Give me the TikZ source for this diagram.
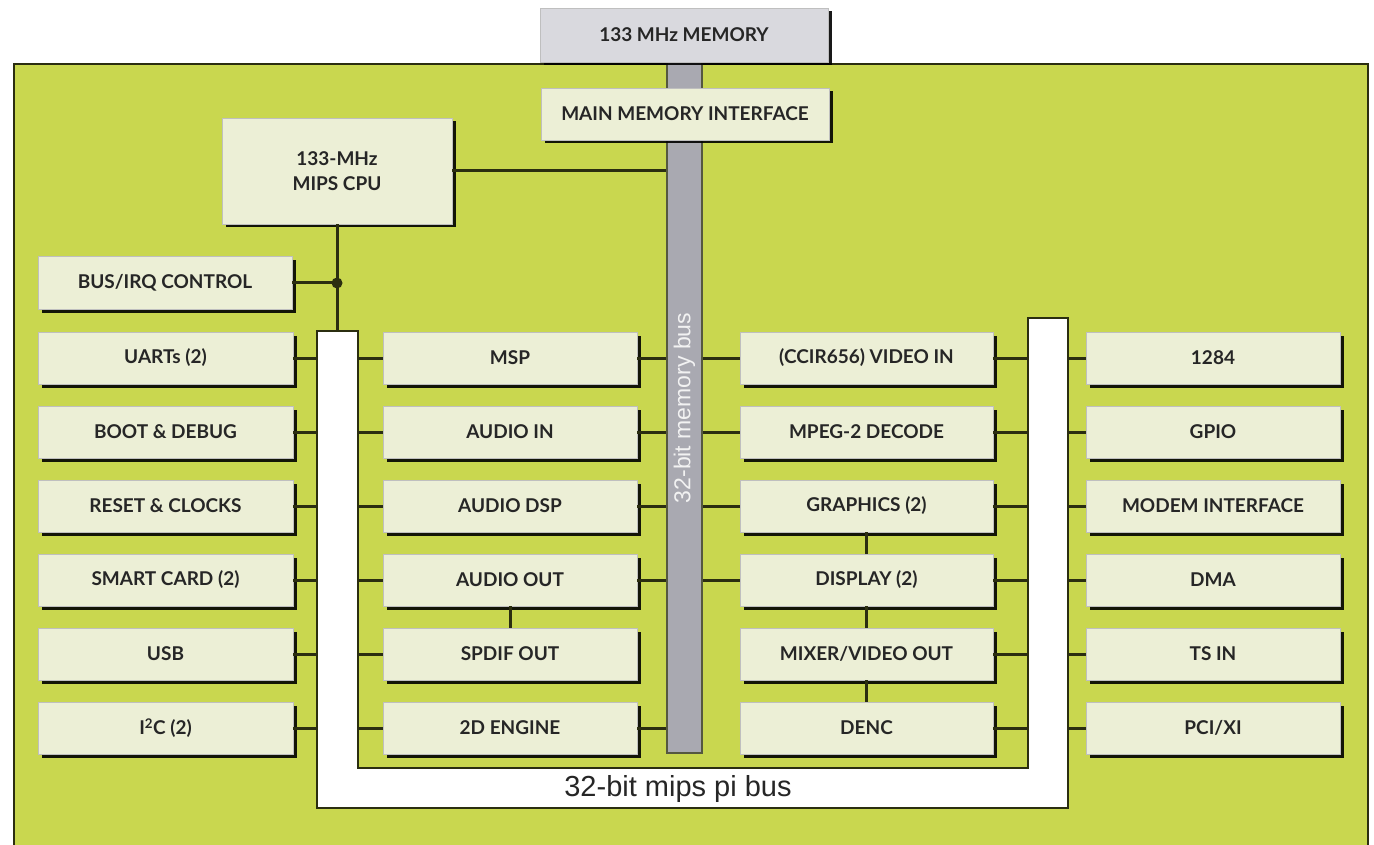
\documentclass[tikz,border=0pt]{standalone}
\usepackage{fontspec}
\newfontfamily\boxfont{Lato}
\newfontfamily\helv{Liberation Sans}
\usetikzlibrary{shadows}
\definecolor{bg}{HTML}{C9D74F}
\definecolor{boxfill}{HTML}{ECEFD6}
\definecolor{memfill}{HTML}{D9D9DE}
\definecolor{busgray}{HTML}{A9A9B1}
\definecolor{wire}{HTML}{2B2E10}
\definecolor{txt}{HTML}{262626}
\tikzset{
  blk/.style={draw=black!25, line width=0.6pt, fill=boxfill, inner sep=0pt,
    text=txt, font=\boxfont\bfseries\fontsize{19}{25}\selectfont, align=center,
    drop shadow={shadow xshift=3.5pt, shadow yshift=-3.5pt, fill=black, opacity=0.9}},
  colA/.style={blk, minimum width=255pt, minimum height=52pt},
  colB/.style={blk, minimum width=254pt, minimum height=52pt},
  colC/.style={blk, minimum width=253pt, minimum height=52pt},
  colD/.style={blk, minimum width=254pt, minimum height=52pt},
  wireline/.style={draw=wire, line width=3pt},
}
\begin{document}
\begin{tikzpicture}[x=1pt,y=-1pt]
\useasboundingbox (0,0) rectangle (1374,845);
\fill[white] (0,0) rectangle (1374,845);
% green chip area
\fill[bg] (14,64) rectangle (1368,845);
\draw[wire, line width=1.8pt] (14,845) -- (14,64) -- (1368,64) -- (1368,845);

% memory bus
\node[draw=wire!80, line width=2pt, fill=busgray, minimum width=35pt, minimum height=691pt, inner sep=0pt] (membus) at (684.5,407.5) {};
\node[rotate=90, text=white!95!black, font=\helv\fontsize{23}{26}\selectfont] (membustxt) at (684.5,408) {32-bit memory bus};

% pi bus (white U)
\coordinate (piLo) at (317,331);
\coordinate (piLi) at (358,331);
\coordinate (piRi) at (1028,318);
\coordinate (piRo) at (1068,318);
\filldraw[fill=white, draw=wire, line width=2.6pt]
  (317,331) -- (358,331) -- (358,768) -- (1028,768) -- (1028,318) -- (1068,318) -- (1068,808) -- (317,808) -- cycle;
\node[font=\helv\fontsize{29}{32}\selectfont, text=txt] (pitxt) at (678,789) {32-bit mips pi bus};

% top boxes
\node[blk, fill=memfill, minimum width=288pt, minimum height=54pt] (mem) at (684,35) {133 MHz MEMORY};
\node[blk, minimum width=288pt, minimum height=52pt] (mmi) at (685,114) {MAIN MEMORY INTERFACE};
\node[blk, minimum width=230pt, minimum height=106pt] (cpu) at (337,171) {133-MHz\\MIPS CPU};
\node[blk, minimum width=254pt, minimum height=53pt] (busirq) at (165,283) {BUS/IRQ CONTROL};

% column A
\node[colA] (a1) at (165.5,358) {UARTs (2)};
\node[colA] (a2) at (165.5,432) {BOOT \& DEBUG};
\node[colA] (a3) at (165.5,506) {RESET \& CLOCKS};
\node[colA] (a4) at (165.5,580) {SMART CARD (2)};
\node[colA] (a5) at (165.5,654) {USB};
\node[colA] (a6) at (165.5,728) {I\textsuperscript{2}C (2)};
% column B
\node[colB] (b1) at (510,358) {MSP};
\node[colB] (b2) at (510,432) {AUDIO IN};
\node[colB] (b3) at (510,506) {AUDIO DSP};
\node[colB] (b4) at (510,580) {AUDIO OUT};
\node[colB] (b5) at (510,654) {SPDIF OUT};
\node[colB] (b6) at (510,728) {2D ENGINE};
% column C
\node[colC] (c1) at (866.5,358) {(CCIR656) VIDEO IN};
\node[colC] (c2) at (866.5,432) {MPEG-2 DECODE};
\node[colC] (c3) at (866.5,506) {GRAPHICS (2)};
\node[colC] (c4) at (866.5,580) {DISPLAY (2)};
\node[colC] (c5) at (866.5,654) {MIXER/VIDEO OUT};
\node[colC] (c6) at (866.5,728) {DENC};
% column D
\node[colD] (d1) at (1213,358) {1284};
\node[colD] (d2) at (1213,432) {GPIO};
\node[colD] (d3) at (1213,506) {MODEM INTERFACE};
\node[colD] (d4) at (1213,580) {DMA};
\node[colD] (d5) at (1213,654) {TS IN};
\node[colD] (d6) at (1213,728) {PCI/XI};

% CPU connections
\coordinate (dot) at (337,283);
\draw[wireline] (cpu.east) -- (cpu.east -| membus.west);
\draw[wireline] (cpu.south) -- (cpu.south |- piLo);
\draw[wireline] (busirq.east) -- (dot);
\fill[wire] (dot) circle (5.5pt);

% column A to pi bus
\foreach \n in {a1,a2,a3,a4,a5,a6} \draw[wireline] (\n.east) -- (\n.east -| piLo);
% column B
\foreach \n in {b1,b2,b3,b4,b5,b6} \draw[wireline] (\n.west) -- (\n.west -| piLi);
\foreach \n in {b1,b2,b3,b4,b6} \draw[wireline] (\n.east) -- (\n.east -| membus.west);
\draw[wireline] (b4.south) -- (b5.north);
% column C
\foreach \n in {c1,c2,c3,c4} \draw[wireline] (\n.west) -- (\n.west -| membus.east);
\foreach \n in {c1,c2,c3,c4,c5,c6} \draw[wireline] (\n.east) -- (\n.east -| piRi);
\draw[wireline] (c3.south) -- (c4.north);
\draw[wireline] (c4.south) -- (c5.north);
\draw[wireline] (c5.south) -- (c6.north);
% column D
\foreach \n in {d1,d2,d3,d4,d5,d6} \draw[wireline] (\n.west) -- (\n.west -| piRo);
\end{tikzpicture}
\end{document}
